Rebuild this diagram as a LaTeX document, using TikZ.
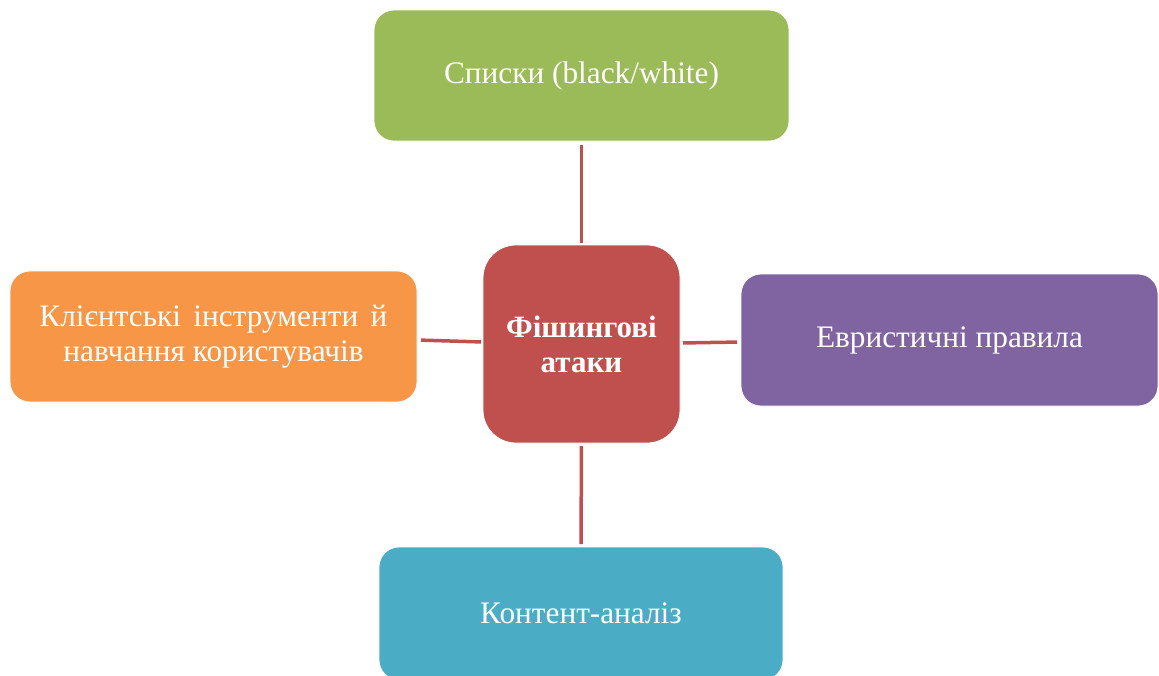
\documentclass[tikz,border=0pt]{standalone}
\usepackage{fontspec}
\setmainfont{Liberation Serif}
\definecolor{boxgreen}{HTML}{9BBB59}
\definecolor{boxred}{HTML}{C0504D}
\definecolor{boxorange}{HTML}{F79646}
\definecolor{boxpurple}{HTML}{8064A2}
\definecolor{boxblue}{HTML}{4BACC6}
\begin{document}
\begin{tikzpicture}[x=1pt,y=-1pt,
  topic/.style={rectangle, rounded corners=20pt, draw=white, line width=0.8pt,
    text=white, inner sep=0pt, outer sep=0pt, align=center,
    font=\fontsize{31.3}{35}\selectfont},
  hub/.style={topic, rounded corners=33pt, font=\fontsize{31}{35}\selectfont\bfseries},
  link/.style={draw=boxred, line width=3.5pt}]
  \clip (0,0) rectangle (1159,675);
  \fill[white] (0,0) rectangle (1159,675);

  % central topic
  \node[hub, fill=boxred, minimum width=197pt, minimum height=198pt]
    (ctr) at (581.5,344) {Фішингові\\атаки};

  % surrounding topics
  \node[topic, fill=boxgreen, minimum width=415pt, minimum height=131pt]
    (top) at (581.5,75.5) {Списки (black/white)};
  \node[topic, fill=boxorange, minimum width=407pt, minimum height=131pt]
    (lft) at (213.5,336.5) {Клієнтські\hspace{12.5pt}інструменти\hspace{12.5pt}й\\навчання користувачів};
  \node[topic, fill=boxpurple, minimum width=417pt, minimum height=132pt]
    (rgt) at (949.5,340) {Евристичні правила};
  \node[topic, fill=boxblue, minimum width=404pt, minimum height=133pt]
    (bot) at (581,613.5) {Контент-аналіз};

  % connectors
  \draw[link, shorten <=4pt, shorten >=2pt] (top.south) -- (ctr.north);
  \draw[link, shorten <=3pt, shorten >=3pt] (ctr.south) -- (bot.north);
  \draw[link, shorten <=4pt, shorten >=2pt] ([yshift=-3.5pt]lft.east) -- ([yshift=2pt]ctr.west);
  \draw[link, shorten <=3pt, shorten >=4pt] ([yshift=1pt]ctr.east) -- ([yshift=-2pt]rgt.west);
\end{tikzpicture}
\end{document}
